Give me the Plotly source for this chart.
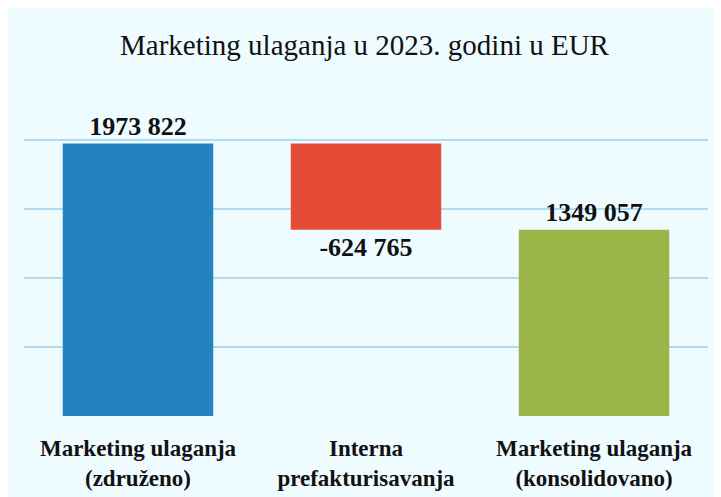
import plotly.graph_objects as go

categories = ["Marketing ulaganja<br>(združeno)", "Interna<br>prefakturisavanja", "Marketing ulaganja<br>(konsolidovano)"]
values = [1973822, -624765, 1349057]
bases = [0, 1973822, 0]
value_labels = ["1973 822", "-624 765", "1349 057"]
bar_colors = ["#2283C0", "#E64C35", "#9BB548"]
grid_vals = [0, 500000, 1000000, 1500000, 2000000]

fig = go.Figure()
fig.add_trace(go.Bar(
    x=categories, y=values, base=bases,
    marker=dict(color=bar_colors, line=dict(width=0)),
    text=value_labels, textposition="outside",
    texttemplate="<b>%{text}</b>",
    textfont=dict(family="Liberation Serif", size=26, color="#111111"),
    cliponaxis=False, width=0.66,
))

fig.add_shape(type="line", xref="paper", yref="y", x0=0, x1=1, y0=2500000, y1=2500000,
              line=dict(color="#E2F1F8", width=1), layer="below")

fig.update_layout(
    width=713, height=489,
    margin=dict(l=16, r=13, t=63, b=81, autoexpand=False),
    paper_bgcolor="#EFFCFF", plot_bgcolor="#EFFCFF",
    showlegend=False,
    title=dict(text="Marketing ulaganja u 2023. godini u EUR", x=0.5, xanchor="center",
               y=0.924, yanchor="middle",
               font=dict(family="Liberation Serif", size=29, color="#111111")),
    xaxis=dict(range=[-0.5, 2.5], showgrid=False, zeroline=False, showline=False,
               tickfont=dict(family="Liberation Serif", size=23, color="#111111", weight="bold"),
               ticks="", ticklabelstandoff=16, automargin=False),
    yaxis=dict(range=[0, 2500000], tickvals=grid_vals, showticklabels=False,
               gridcolor="#B2DAF2", gridwidth=1.5, zeroline=False, showline=False,
               automargin=False),
    font=dict(family="Liberation Serif"),
)
fig.write_html("out.html")
